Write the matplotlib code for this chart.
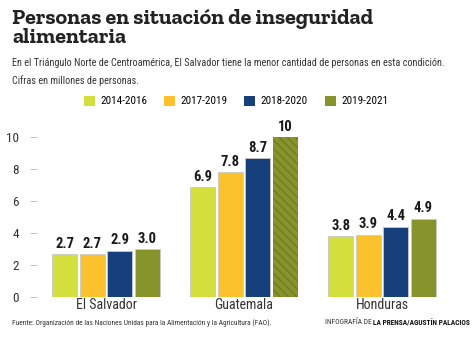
import numpy as np
import matplotlib
matplotlib.use("Agg")
import matplotlib.pyplot as plt
from matplotlib.patches import Patch

countries = ["El Salvador", "Guatemala", "Honduras"]
periods = ["2014-2016", "2017-2019", "2018-2020", "2019-2021"]
values = {
    "2014-2016": [2.7, 6.9, 3.8],
    "2017-2019": [2.7, 7.8, 3.9],
    "2018-2020": [2.9, 8.7, 4.4],
    "2019-2021": [3.0, 10, 4.9],
}
value_labels = {
    "2014-2016": ["2.7", "6.9", "3.8"],
    "2017-2019": ["2.7", "7.8", "3.9"],
    "2018-2020": ["2.9", "8.7", "4.4"],
    "2019-2021": ["3.0", "10", "4.9"],
}
colors = ["#d3df3d", "#fbc22e", "#163f7c", "#86942b"]

narrow = ["Roboto Condensed", "DejaVu Sans"]

fig = plt.figure(figsize=(4.74, 3.40), dpi=100)
ax = fig.add_axes([37 / 474, 43 / 340, 421 / 474, 171 / 340])

x = np.arange(len(countries))
pitch = 0.2
width = 0.18
for i, p in enumerate(periods):
    xs = x + (i - 1.5) * pitch
    bars = ax.bar(xs, values[p], width, color=colors[i],
                  edgecolor="#c8c8c8", linewidth=0.6, label=p)
    for j, b in enumerate(bars):
        if p == "2019-2021" and countries[j] == "Guatemala":
            b.set_hatch("\\\\\\\\")
            b.set_edgecolor("#6f7c22")
            b.set_linewidth(0)
        ax.text(b.get_x() + b.get_width() / 2, values[p][j] + 0.2,
                value_labels[p][j], ha="center", va="bottom",
                fontsize=10.5, fontweight="bold", family=narrow, color="#1a1a1a")

ax.set_xlim(-0.5, 2.55)
ax.set_ylim(0, 10.7)
ax.set_yticks([0, 2, 4, 6, 8, 10])
ax.set_xticks(x)
ax.set_xticklabels(countries, family=narrow, fontsize=10, color="#333333")
ax.tick_params(axis="x", length=0, pad=1)
ax.tick_params(axis="y", length=5, width=0.6, color="#bbbbbb", pad=8,
               labelsize=9.5, labelcolor="#333333")
for t in ax.get_yticklabels():
    t.set_family(narrow)
for s in ax.spines.values():
    s.set_visible(False)

# title and subtitle
fig.text(12 / 474, 1 - 9 / 340, "Personas en situación de inseguridad\nalimentaria",
         ha="left", va="top", fontsize=15.8, fontweight="bold",
         family=["Zilla Slab", "DejaVu Serif"], color="#222222", linespacing=0.9)
fig.text(12 / 474, 1 - 58 / 340,
         "En el Triángulo Norte de Centroamérica, El Salvador tiene la menor cantidad de personas en esta condición.\nCifras en millones de personas.",
         ha="left", va="top", fontsize=7.3, family=narrow, color="#333333", linespacing=1.75)

handles = [Patch(facecolor=c, edgecolor="none") for c in colors]
fig.legend(handles, periods, loc="center", bbox_to_anchor=(236 / 474, 1 - 101 / 340),
           ncol=4, frameon=False, handlelength=1.0, handleheight=1.0,
           handletextpad=0.5, columnspacing=1.5, prop={"family": narrow, "size": 8})

# footer
fig.text(12 / 474, 1 - 323 / 340,
         "Fuente: Organización de las Naciones Unidas para la Alimentación y la Agricultura (FAO).",
         ha="left", va="center", fontsize=5.3, family=narrow, color="#333333")
credit = fig.text(470 / 474, 1 - 323 / 340, "LA PRENSA/AGUSTÍN PALACIOS", ha="right", va="center",
                  fontsize=5.3, family=narrow, fontweight="bold", color="#111111")
fig.add_artist(matplotlib.text.Annotation(
    "INFOGRAFÍA DE ", xy=(0, 0.5), xycoords=credit, ha="right", va="center",
    fontsize=5.3, family=narrow, color="#333333"))

fig.savefig("out.png", dpi=100)
